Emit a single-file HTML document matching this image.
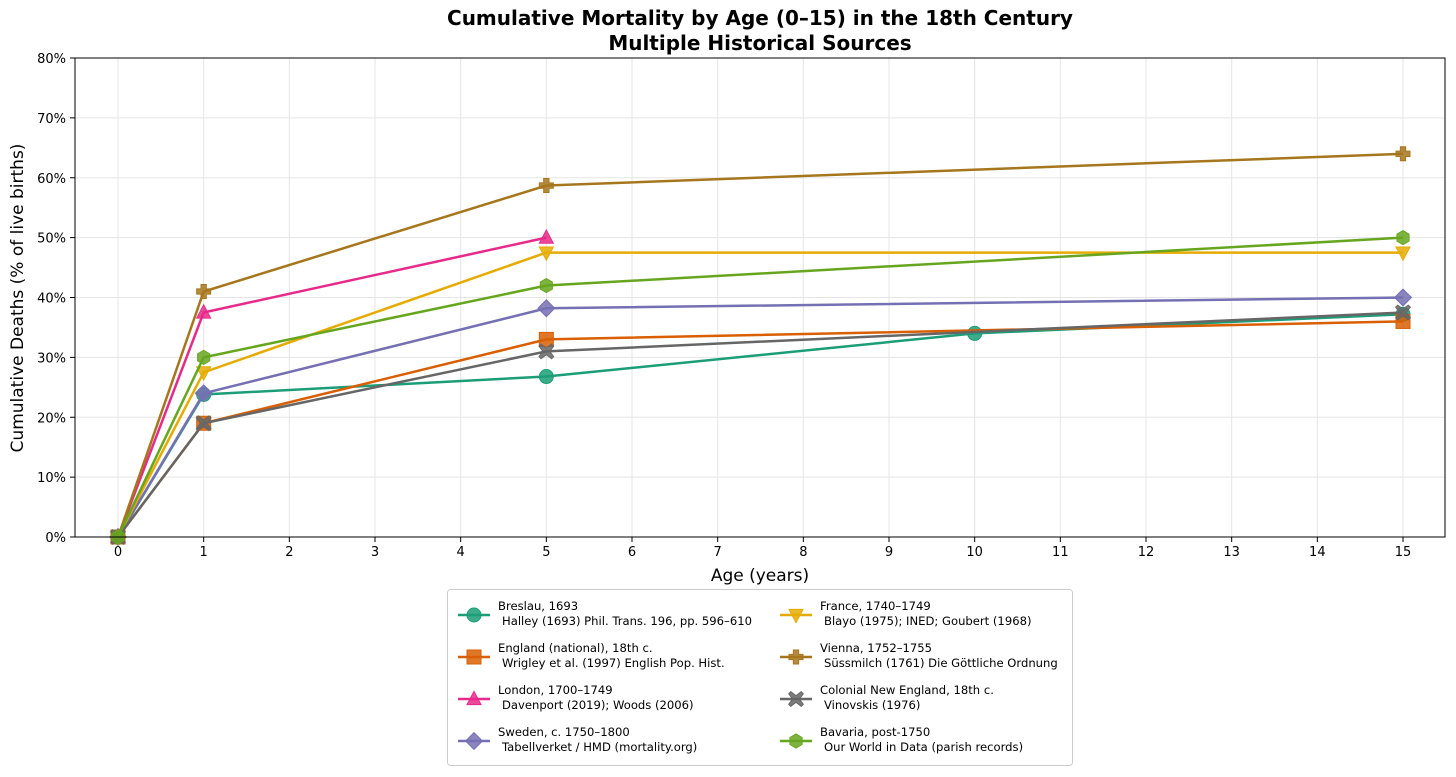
<!DOCTYPE html>
<html><head><meta charset="utf-8"><style>
body{margin:0;background:#fff;font-family:"DejaVu Sans","Liberation Sans",sans-serif}
svg text{font-family:"DejaVu Sans","Liberation Sans",sans-serif}
</style></head><body>
<svg id="chart" width="1456" height="773" viewBox="0 0 1456 773" xmlns="http://www.w3.org/2000/svg">
<text x="760" y="25" text-anchor="middle" font-size="20" font-weight="bold">Cumulative Mortality by Age (0–15) in the 18th Century</text>
<text x="760" y="50" text-anchor="middle" font-size="20" font-weight="bold">Multiple Historical Sources</text>
<g id="grid"></g>
<g id="axes"></g>
<g id="series"></g>
<rect x="75" y="58" width="1370" height="479" fill="none" stroke="#000" stroke-width="1"/>
<text x="760" y="581" text-anchor="middle" font-size="17">Age (years)</text>
<text transform="translate(23,298) rotate(-90)" text-anchor="middle" font-size="17">Cumulative Deaths (% of live births)</text>
<g id="legend">
<rect x="447.5" y="589.5" width="625" height="176" rx="3" fill="#fff" stroke="#ccc"/>
</g>
</svg>
<script>
const xTicks=[0,1,2,3,4,5,6,7,8,9,10,11,12,13,14,15];
const yTicks=[0,10,20,30,40,50,60,70,80];
const names=["Breslau, 1693","England (national), 18th c.","London, 1700–1749","Sweden, c. 1750–1800","France, 1740–1749","Vienna, 1752–1755","Colonial New England, 18th c.","Bavaria, post-1750"];
const sources=["Halley (1693) Phil. Trans. 196, pp. 596–610","Wrigley et al. (1997) English Pop. Hist.","Davenport (2019); Woods (2006)","Tabellverket / HMD (mortality.org)","Blayo (1975); INED; Goubert (1968)","Süssmilch (1761) Die Göttliche Ordnung","Vinovskis (1976)","Our World in Data (parish records)"];
const colors=["#1b9e77","#d95f02","#e7298a","#7570b3","#e6ab02","#a6761d","#666666","#66a61e"];
const markers=["circle","square","triangle","diamond","tridown","plus","x","hex"];
const breslauAges=[0,1,5,10,15], breslauVals=[0,23.8,26.8,34,37.2];
const englandAges=[0,1,5,15], englandVals=[0,19,33,36];
const londonAges=[0,1,5], londonVals=[0,37.5,50];
const swedenAges=[0,1,5,15], swedenVals=[0,24,38.2,40];
const franceAges=[0,1,5,15], franceVals=[0,27.5,47.5,47.5];
const viennaAges=[0,1,5,15], viennaVals=[0,41,58.7,64];
const colonialAges=[0,1,5,15], colonialVals=[0,19,31,37.5];
const bavariaAges=[0,1,5,15], bavariaVals=[0,30,42,50];
const seriesAges=[breslauAges,englandAges,londonAges,swedenAges,franceAges,viennaAges,colonialAges,bavariaAges];
const seriesVals=[breslauVals,englandVals,londonVals,swedenVals,franceVals,viennaVals,colonialVals,bavariaVals];
const NS="http://www.w3.org/2000/svg";
const X=v=>118+v*(1403-118)/15, Y=v=>537-v*(479/80);
function mk(tag,attrs,parent){const e=document.createElementNS(NS,tag);for(const k in attrs)e.setAttribute(k,attrs[k]);parent.appendChild(e);return e;}
const grid=document.getElementById('grid'),axes=document.getElementById('axes'),ser=document.getElementById('series'),leg=document.getElementById('legend');
xTicks.forEach(t=>{const l=mk('line',{x1:X(t),x2:X(t),y1:58,y2:537,stroke:'#e5e5e5'},grid);
const tk=mk('line',{x1:X(t),x2:X(t),y1:537,y2:542,stroke:'#000'},axes);
const tx=mk('text',{x:X(t),y:556,'text-anchor':'middle','font-size':13},axes);tx.textContent=t;});
yTicks.forEach(t=>{const l=mk('line',{x1:75,x2:1445,y1:Y(t),y2:Y(t),stroke:'#e5e5e5'},grid);
const tk=mk('line',{x1:70,x2:75,y1:Y(t),y2:Y(t),stroke:'#000'},axes);
const tx=mk('text',{x:66,y:Y(t)+5,'text-anchor':'end','font-size':13},axes);tx.textContent=t+'%';});
function marker(type,cx,cy,c,parent){const s=7;let e;const st={fill:c,'fill-opacity':0.85,stroke:c,'stroke-width':1};
if(type==='circle')e=mk('circle',Object.assign({cx,cy,r:s},st),parent);
else if(type==='square')e=mk('rect',Object.assign({x:cx-s,y:cy-s,width:2*s,height:2*s},st),parent);
else{let p;if(type==='triangle')p=[[0,-s*1.1],[s,s*0.8],[-s,s*0.8]];
else if(type==='tridown')p=[[0,s*1.1],[s,-s*0.8],[-s,-s*0.8]];
else if(type==='diamond')p=[[0,-s*1.2],[s*1.2,0],[0,s*1.2],[-s*1.2,0]];
else if(type==='plus'){const a=s,b=s*0.38;p=[[-b,-a],[b,-a],[b,-b],[a,-b],[a,b],[b,b],[b,a],[-b,a],[-b,b],[-a,b],[-a,-b],[-b,-b]];}
else if(type==='x'){const a=s*0.75,b=s*0.3;p=[[-a,-a-b],[0,-b*1.6],[a,-a-b],[a+b,-a],[b*1.6,0],[a+b,a],[a,a+b],[0,b*1.6],[-a,a+b],[-a-b,a],[-b*1.6,0],[-a-b,-a]];}
else{p=[];for(let i=0;i<6;i++){const an=Math.PI/6+i*Math.PI/3;p.push([s*Math.cos(an)+0,s*Math.sin(an)]);}}
e=mk('polygon',Object.assign({points:p.map(q=>(cx+q[0])+','+(cy+q[1])).join(' ')},st),parent);}
return e;}
seriesAges.forEach((ages,i)=>{const g=mk('g',{},ser);
const pl=mk('polyline',{points:ages.map((a,j)=>X(a)+','+Y(seriesVals[i][j])).join(' '),fill:'none',stroke:colors[i],'stroke-width':2.5},g);

ages.forEach((a,j)=>{const m=marker(markers[i],X(a),Y(seriesVals[i][j]),colors[i],g);});});
names.forEach((n,i)=>{const col=i<4?0:1,row=i%4;const mx=col?796:474,tx=col?820:498,cy=615+row*42;
const g=mk('g',{},leg);
mk('line',{x1:mx-16,x2:mx+16,y1:cy,y2:cy,stroke:colors[i],'stroke-width':2.5},g);
marker(markers[i],mx,cy,colors[i],g);
const t1=mk('text',{x:tx,y:cy-5,'font-size':11.6},g);t1.textContent=n;
const t2=mk('text',{x:tx+4,y:cy+10,'font-size':11.6},g);t2.textContent=sources[i];});
</script>
</body></html>
